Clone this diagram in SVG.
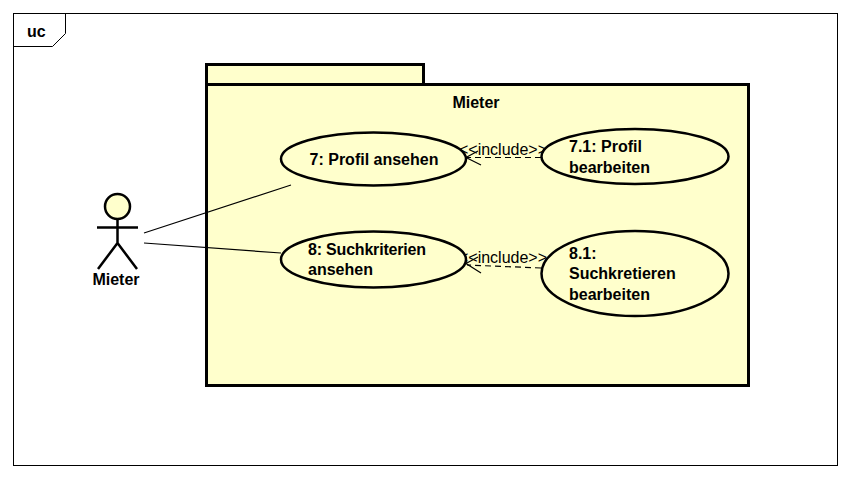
<svg xmlns="http://www.w3.org/2000/svg" width="850" height="478" viewBox="0 0 850 478">
<style>
text{font-family:"Liberation Sans",Arial,sans-serif;font-size:16px;fill:#000}
.b{font-weight:bold}
.uc{fill:#ffffcc;stroke:#000;stroke-width:2.5}
.pk{fill:#ffffcc;stroke:#000;stroke-width:3}
.a{fill:none;stroke:#000;stroke-width:1.2}
.d{stroke-dasharray:6 4}
</style>
<rect width="850" height="478" fill="#fff"/>
<g id="frame">
<rect x="13.500" y="13.500" width="824" height="452" fill="#fff" stroke="#000" stroke-width="1"/>
<path d="M13.500 46.500H52.500L65.500 33.500V13.500" fill="none" stroke="#000" stroke-width="1"/>
<text x="27" y="37" class="b">uc</text>
</g>
<g id="package">
<rect class="pk" x="206.500" y="64.500" width="217" height="20"/>
<rect class="pk" x="206.500" y="84.500" width="542" height="301"/>
<text x="476" y="108" class="b" text-anchor="middle">Mieter</text>
</g>
<g id="connectors">
<path class="a" d="M144 233L291 185M144 243L281 253"/>
<path class="a d" d="M541 157.500H467"/>
<path class="a" d="M478 151L466 157.500L481 165"/>
<path class="a d" d="M541 268L467 265"/>
<path class="a" d="M478 257L466 263.500L481 273"/>
<text x="503" y="155" text-anchor="middle">&lt;&lt;include&gt;&gt;</text>
<text x="503" y="263" text-anchor="middle">&lt;&lt;include&gt;&gt;</text>
</g>
<g id="actor">
<circle cx="117.500" cy="206.500" r="12.500" fill="#ffffcc" stroke="#000" stroke-width="2.500"/>
<path d="M97 227.500H138M117.500 219V243M117.500 243L98 269M117.500 243L137 269" fill="none" stroke="#000" stroke-width="2.500"/>
<text x="116" y="285" class="b" text-anchor="middle">Mieter</text>
</g>
<g id="uc7">
<ellipse class="uc" cx="373.500" cy="159" rx="92.500" ry="26.500"/>
<text x="374" y="165" class="b" text-anchor="middle">7: Profil ansehen</text>
</g>
<g id="uc71">
<ellipse class="uc" cx="635" cy="156.500" rx="93.500" ry="27.500"/>
<text x="569" y="152" class="b">7.1: Profil</text>
<text x="569" y="173" class="b">bearbeiten</text>
</g>
<g id="uc8">
<ellipse class="uc" cx="373.500" cy="259.500" rx="92.500" ry="28"/>
<text x="308" y="255" class="b" textLength="118">8: Suchkriterien</text>
<text x="308" y="275" class="b">ansehen</text>
</g>
<g id="uc81">
<ellipse class="uc" cx="635" cy="273.500" rx="93.500" ry="42.500"/>
<text x="569" y="259" class="b">8.1:</text>
<text x="569" y="279" class="b">Suchkretieren</text>
<text x="569" y="300" class="b">bearbeiten</text>
</g>
</svg>
